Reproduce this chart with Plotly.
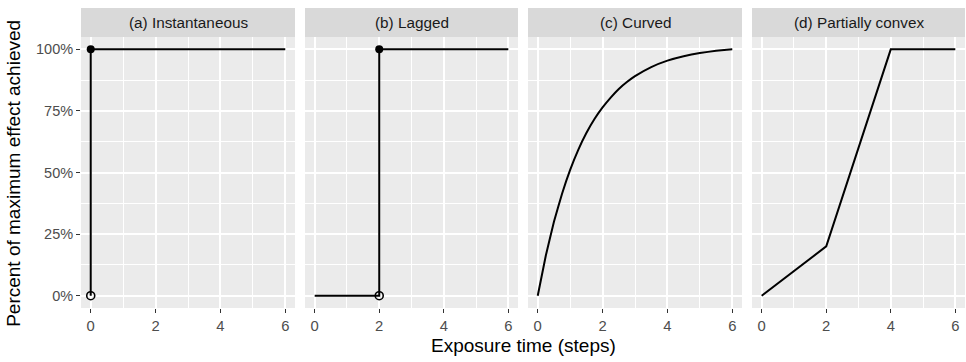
import plotly.graph_objects as go

panel_titles = ["(a) Instantaneous", "(b) Lagged", "(c) Curved", "(d) Partially convex"]

# line data per panel
a_x = [0, 0, 6]
a_y = [0, 1, 1]
b_x = [0, 2, 2, 6]
b_y = [0, 0, 1, 1]
c_x = [0, 0.25, 0.5, 0.75, 1, 1.25, 1.5, 1.75, 2, 2.25, 2.5, 2.75, 3, 3.5, 4, 4.5, 5, 5.5, 6]
c_y = [0, 0.163, 0.300, 0.414, 0.511, 0.592, 0.660, 0.717, 0.764, 0.804, 0.839, 0.867, 0.891, 0.928, 0.954, 0.972, 0.985, 0.994, 1.0]
d_x = [0, 2, 4, 6]
d_y = [0, 0.2, 1, 1]

# jump points (open = excluded, filled = included)
a_open = ([0], [0])
a_fill = ([0], [1])
b_open = ([2], [0])
b_fill = ([2], [1])

x_ticks = [0, 2, 4, 6]
y_ticks = [0, 0.25, 0.5, 0.75, 1.0]
y_labels = ["0%", "25%", "50%", "75%", "100%"]

W, H = 966, 362
ml, mr, mt, mb = 81, 1, 37, 54
pw = W - ml - mr
ph = H - mt - mb
panels_px = [(81, 295), (305, 518), (528, 742), (752, 965)]
domains = [((a - ml) / pw, (b - ml) / pw) for a, b in panels_px]

fig = go.Figure()
lines = [(a_x, a_y), (b_x, b_y), (c_x, c_y), (d_x, d_y)]
opens = {0: a_open, 1: b_open}
fills = {0: a_fill, 1: b_fill}

for i, (xs, ys) in enumerate(lines):
    xa = "x" if i == 0 else f"x{i+1}"
    ya = "y" if i == 0 else f"y{i+1}"
    fig.add_trace(go.Scatter(x=xs, y=ys, mode="lines", line=dict(color="black", width=2, shape="spline", smoothing=0.3) if i == 2 else dict(color="black", width=2),
                             xaxis=xa, yaxis=ya, showlegend=False, hoverinfo="skip"))
    if i in opens:
        fig.add_trace(go.Scatter(x=opens[i][0], y=opens[i][1], mode="markers",
                                 marker=dict(symbol="circle-open", size=8, color="black",
                                             line=dict(width=1.6, color="black")),
                                 xaxis=xa, yaxis=ya, showlegend=False))
        fig.add_trace(go.Scatter(x=fills[i][0], y=fills[i][1], mode="markers",
                                 marker=dict(symbol="circle", size=8, color="black"),
                                 xaxis=xa, yaxis=ya, showlegend=False))

layout = dict(
    width=W, height=H,
    margin=dict(l=ml, r=mr, t=mt, b=mb),
    paper_bgcolor="white", plot_bgcolor="#EBEBEB",
    font=dict(family="Liberation Sans, Arial, sans-serif"),
    showlegend=False,
)
for i, dom in enumerate(domains):
    key = "" if i == 0 else str(i + 1)
    layout["xaxis" + key] = dict(
        domain=list(dom), range=[-0.3, 6.3], tickvals=x_ticks, ticktext=[str(v) for v in x_ticks],
        ticks="outside", ticklen=4, tickwidth=1.2, tickcolor="#333333",
        tickfont=dict(size=14.8, color="#4D4D4D"),
        showgrid=True, gridcolor="white", gridwidth=1.6, zeroline=False, showline=False,
        minor=dict(dtick=1, showgrid=True, gridcolor="white", gridwidth=0.8, ticks=""),
        anchor="y" if i == 0 else f"y{i+1}", fixedrange=True,
    )
    layout["yaxis" + key] = dict(
        domain=[0, 1], range=[-0.05, 1.05], tickvals=y_ticks,
        ticktext=y_labels if i == 0 else [""] * len(y_ticks),
        showticklabels=(i == 0),
        ticks="outside" if i == 0 else "", ticklen=4, tickwidth=1.2, tickcolor="#333333",
        tickfont=dict(size=14.5, color="#4D4D4D"),
        showgrid=True, gridcolor="white", gridwidth=1.6, zeroline=False, showline=False,
        minor=dict(dtick=0.125, tick0=0, showgrid=True, gridcolor="white", gridwidth=0.8, ticks=""),
        anchor="x" if i == 0 else f"x{i+1}", fixedrange=True,
    )
fig.update_layout(**layout)

strip_h = 29 / ph
shapes = []
annotations = []
for (d0, d1), title in zip(domains, panel_titles):
    shapes.append(dict(type="rect", xref="paper", yref="paper", x0=d0, x1=d1, y0=1, y1=1 + strip_h,
                       fillcolor="#D9D9D9", line=dict(width=0), layer="below"))
    annotations.append(dict(text=title, xref="paper", yref="paper", x=(d0 + d1) / 2, y=1 + strip_h / 2,
                            xanchor="center", yanchor="middle", showarrow=False,
                            font=dict(size=15.3, color="#1A1A1A")))
annotations.append(dict(text="Percent of maximum effect achieved", xref="paper", yref="paper",
                        x=(14 - ml) / pw, y=0.495, textangle=-90, xanchor="center", yanchor="middle",
                        showarrow=False, font=dict(size=19, color="black")))
annotations.append(dict(text="Exposure time (steps)", xref="paper", yref="paper",
                        x=0.5, y=(308 - 345) / ph, xanchor="center", yanchor="middle",
                        showarrow=False, font=dict(size=19, color="black")))
fig.update_layout(shapes=shapes, annotations=annotations)

fig.write_html("out.html")
